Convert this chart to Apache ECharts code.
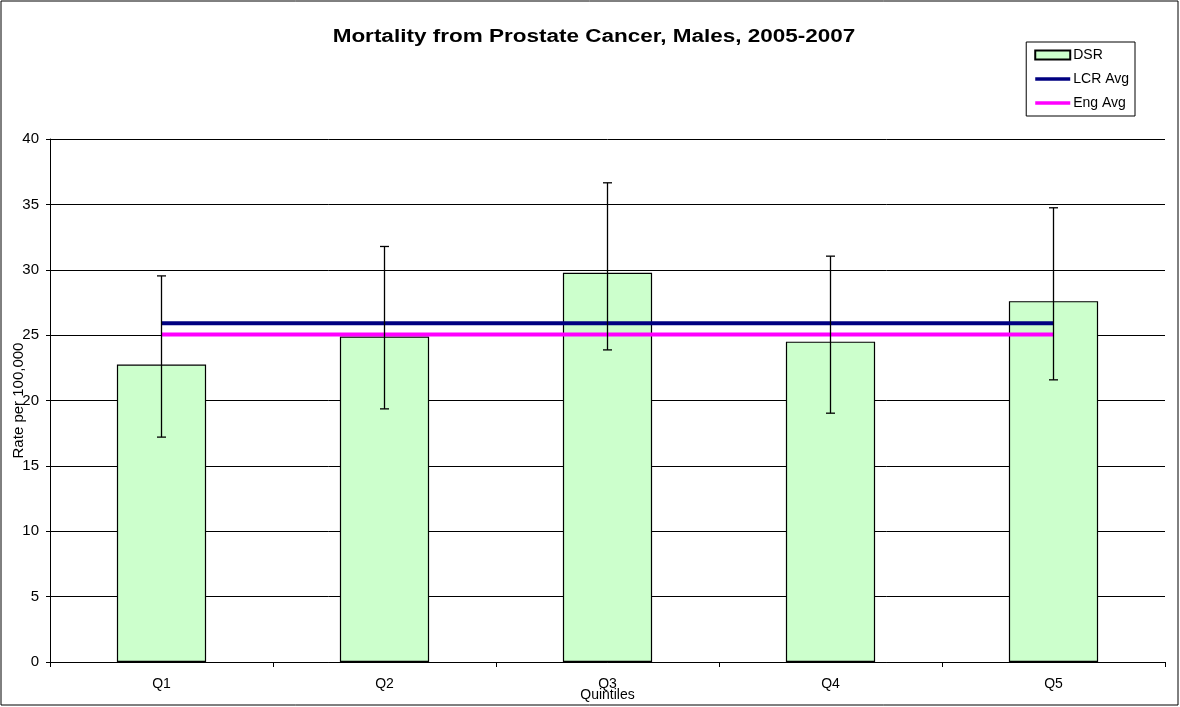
<!DOCTYPE html>
<html>
<head>
<meta charset="utf-8">
<script src="https://cdn.jsdelivr.net/npm/echarts@6/dist/echarts.min.js"></script>
<style>
  html, body { margin: 0; padding: 0; background: #fff; }
  #chart { width: 1180px; height: 707px; }
</style>
</head>
<body>
<div id="chart"></div>
<script>
const categories = ['Q1', 'Q2', 'Q3', 'Q4', 'Q5'];
const dsr = [22.75, 24.9, 29.77, 24.5, 27.6];
const ciLow = [17.2, 19.36, 23.87, 19.03, 21.58];
const ciHigh = [29.53, 31.78, 36.65, 31.04, 34.74];
const lcrAvg = [25.9, 25.9, 25.9, 25.9, 25.9];
const engAvg = [25.05, 25.05, 25.05, 25.05, 25.05];
const yTicks = [0, 5, 10, 15, 20, 25, 30, 35, 40];

const font = 'Liberation Sans, Arial, sans-serif';
const chart = echarts.init(document.getElementById('chart'));

// error bars: vertical line + caps
const errorData = categories.map((c, i) => [i, ciLow[i], ciHigh[i]]);
function renderError(params, api) {
  const x = api.value(0);
  const lo = api.coord([x, api.value(1)]);
  const hi = api.coord([x, api.value(2)]);
  const half = 4.5;
  const style = { stroke: '#000', lineWidth: 1.3 };
  return {
    type: 'group',
    children: [
      { type: 'line', shape: { x1: hi[0], y1: hi[1], x2: lo[0], y2: lo[1] }, style },
      { type: 'line', shape: { x1: hi[0] - half, y1: hi[1], x2: hi[0] + half, y2: hi[1] }, style },
      { type: 'line', shape: { x1: lo[0] - half, y1: lo[1], x2: lo[0] + half, y2: lo[1] }, style }
    ]
  };
}

const option = {
  animation: false,
  textStyle: { fontFamily: font },
  legend: {
    right: 45,
    top: 42,
    orient: 'vertical',
    itemGap: 10,
    itemWidth: 35,
    itemHeight: 9,
    padding: [6, 6, 6, 8],
    borderColor: '#000',
    borderWidth: 1,
    textStyle: { fontFamily: font, fontSize: 14, color: '#000', padding: [0, 0, 0, -2] },
    data: [
      { name: 'DSR', icon: 'rect' },
      { name: 'LCR Avg', icon: 'path://M0,3.5 L35,3.5 L35,7 L0,7 Z' },
      { name: 'Eng Avg', icon: 'path://M0,3.5 L35,3.5 L35,7 L0,7 Z' }
    ]
  },
  graphic: [
    { type: 'rect', shape: { x: 1, y: 1, width: 1177, height: 704 }, style: { fill: 'none', stroke: '#000', lineWidth: 1 }, silent: true },
    {
      type: 'text', x: 594, y: 37, scaleX: 1.25,
      style: {
        text: 'Mortality from Prostate Cancer, Males, 2005-2007',
        font: 'bold 18px Liberation Sans, Arial, sans-serif',
        fill: '#000', align: 'center', verticalAlign: 'middle'
      },
      silent: true
    }
  ],
  grid: { left: 50, right: 15, top: 139, bottom: 45, containLabel: false, outerBoundsMode: 'none' },
  xAxis: {
    type: 'category',
    data: categories,
    name: 'Quintiles',
    nameLocation: 'middle',
    nameGap: 26,
    nameMoveOverlap: false,
    nameTextStyle: { fontFamily: font, fontSize: 14, color: '#000' },
    axisLine: { lineStyle: { color: '#000', width: 1 } },
    axisTick: { show: true, length: 5, lineStyle: { color: '#000' } },
    axisLabel: { fontFamily: font, fontSize: 14, color: '#000', margin: 15 }
  },
  yAxis: {
    type: 'value',
    min: yTicks[0],
    max: yTicks[yTicks.length - 1],
    interval: 5,
    name: 'Rate per 100,000',
    nameLocation: 'middle',
    nameGap: 24,
    nameMoveOverlap: false,
    nameTextStyle: { fontFamily: font, fontSize: 15, color: '#000' },
    axisLine: { show: true, lineStyle: { color: '#000', width: 1 } },
    axisTick: { show: true, length: 4, lineStyle: { color: '#000' } },
    axisLabel: { fontFamily: font, fontSize: 15, color: '#000', margin: 11 },
    splitLine: { show: true, lineStyle: { color: '#000', width: 1 } }
  },
  series: [
    {
      name: 'DSR',
      type: 'bar',
      data: dsr,
      barWidth: '40%',
      itemStyle: { color: '#CCFFCC', borderColor: '#000', borderWidth: 1.2 },
      z: 2
    },
    {
      name: 'LCR Avg',
      type: 'line',
      data: lcrAvg,
      symbol: 'none',
      lineStyle: { color: '#000080', width: 4 },
      itemStyle: { color: '#000080' },
      z: 3
    },
    {
      name: 'Eng Avg',
      type: 'line',
      data: engAvg,
      symbol: 'none',
      lineStyle: { color: '#FF00FF', width: 4 },
      itemStyle: { color: '#FF00FF' },
      z: 3
    },
    {
      name: 'CI',
      type: 'custom',
      renderItem: renderError,
      data: errorData,
      encode: { x: 0, y: [1, 2] },
      z: 4
    }
  ]
};
chart.setOption(option);
</script>
</body>
</html>
